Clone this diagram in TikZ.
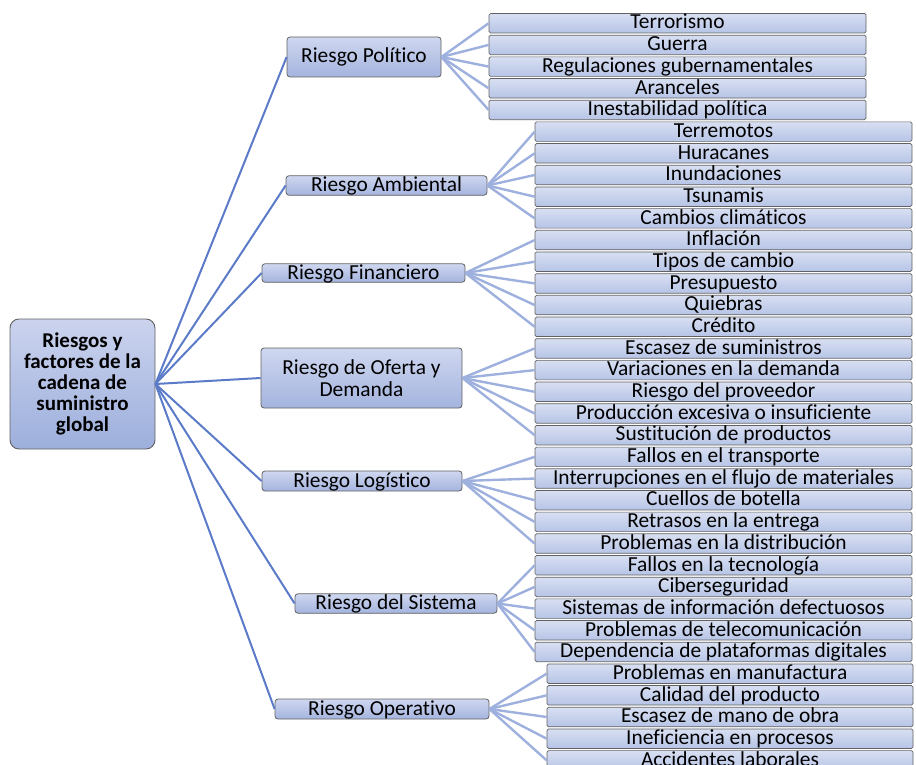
\documentclass[tikz,border=0pt]{standalone}
\usepackage{fontspec}
\setmainfont[RawFeature={-liga}]{Carlito}
\definecolor{rootTop}{HTML}{CBD3EE}
\definecolor{rootBot}{HTML}{9DAFDC}
\definecolor{midTop}{HTML}{CFD7F0}
\definecolor{midBot}{HTML}{A4B4DE}
\definecolor{leafTop}{HTML}{D8DFF2}
\definecolor{leafBot}{HTML}{B6C4E6}
\definecolor{boxline}{HTML}{626262}
\definecolor{trunk}{HTML}{5B7BC9}
\definecolor{twig}{HTML}{9EB0DD}
\tikzset{
  rootbox/.style={draw=boxline, line width=0.9pt, rounded corners=9pt,
    top color=rootTop, bottom color=rootBot, inner sep=0pt,
    minimum width=145pt, minimum height=130pt, align=center,
    font=\fontsize{21}{21}\selectfont\bfseries},
  midbox/.style={draw=boxline, line width=0.8pt, rounded corners=3pt,
    top color=midTop, bottom color=midBot, inner sep=0pt,
    font=\fontsize{21.4}{22}\selectfont, text height=12.5pt, text depth=0.5pt},
  midtwo/.style={midbox, text height=, text depth=, align=center},
  leafbox/.style={draw=boxline, line width=0.7pt, rounded corners=1.5pt,
    top color=leafTop, bottom color=leafBot, inner sep=0pt,
    minimum height=19.5pt,
    font=\fontsize{21.4}{21}\selectfont, text height=12pt, text depth=0.5pt},
  trunkline/.style={draw=trunk, line width=2pt},
  twigline/.style={draw=twig, line width=2.4pt},
}
% \riskbranch{group}{centre x}{width}{first row}{items}
\newcommand\riskbranch[5]{%
  \foreach \t [count=\k from 0] in {#5} {
    \pgfmathsetmacro\yy{23.25+21.68*(#4+\k)}
    \node[leafbox, minimum width=#3] (l#1-\k) at (#2,\yy) {\t};
    \draw[twigline] (m#1.east) -- (l#1-\k.west);
  }%
}
\begin{document}
\begin{tikzpicture}[x=1pt,y=-1pt]
\useasboundingbox (0,0) rectangle (916,765);
\clip (0,0) rectangle (916,765);

% root
\node[rootbox] (root) at (82.5,384) {Riesgos y\\factores de la\\cadena de\\suministro\\global};

% risk categories
\node[midbox, minimum width=154pt, minimum height=40pt] (m0) at (364,57) {Riesgo Político};
\node[midbox, minimum width=201pt, minimum height=19.5pt] (m1) at (386.5,185.5) {Riesgo Ambiental};
\node[midbox, minimum width=203pt, minimum height=18.5pt] (m2) at (363.5,273) {Riesgo Financiero};
\node[midtwo, minimum width=201pt, minimum height=60pt] (m3) at (361.5,378) {Riesgo de Oferta y\\Demanda};
\node[midbox, minimum width=200pt, minimum height=20pt] (m4) at (362,481) {Riesgo Logístico};
\node[midbox, minimum width=202pt, minimum height=19.5pt] (m5) at (396,603.5) {Riesgo del Sistema};
\node[midbox, minimum width=214pt, minimum height=20pt] (m6) at (382,709) {Riesgo Operativo};

\foreach \i in {0,...,6} {
  \draw[trunkline] (root.east) -- (m\i.west);
}

% risk factors
\riskbranch{0}{677.5}{377pt}{0}{Terrorismo,Guerra,Regulaciones gubernamentales,Aranceles,Inestabilidad política}
\riskbranch{1}{723.5}{377pt}{5}{Terremotos,Huracanes,Inundaciones,Tsunamis,Cambios climáticos}
\riskbranch{2}{723.5}{377pt}{10}{Inflación,Tipos de cambio,Presupuesto,Quiebras,Crédito}
\riskbranch{3}{723.5}{377pt}{15}{Escasez de suministros,Variaciones en la demanda,Riesgo del proveedor,Producción excesiva o insuficiente,Sustitución de productos}
\riskbranch{4}{723.5}{377pt}{20}{Fallos en el transporte,Interrupciones en el flujo de materiales,Cuellos de botella,Retrasos en la entrega,Problemas en la distribución}
\riskbranch{5}{723.5}{377pt}{25}{Fallos en la tecnología,Ciberseguridad,Sistemas de información defectuosos,Problemas de telecomunicación,Dependencia de plataformas digitales}
\riskbranch{6}{730}{366pt}{30}{Problemas en manufactura,Calidad del producto,Escasez de mano de obra,Ineficiencia en procesos,Accidentes laborales}
\end{tikzpicture}
\end{document}
